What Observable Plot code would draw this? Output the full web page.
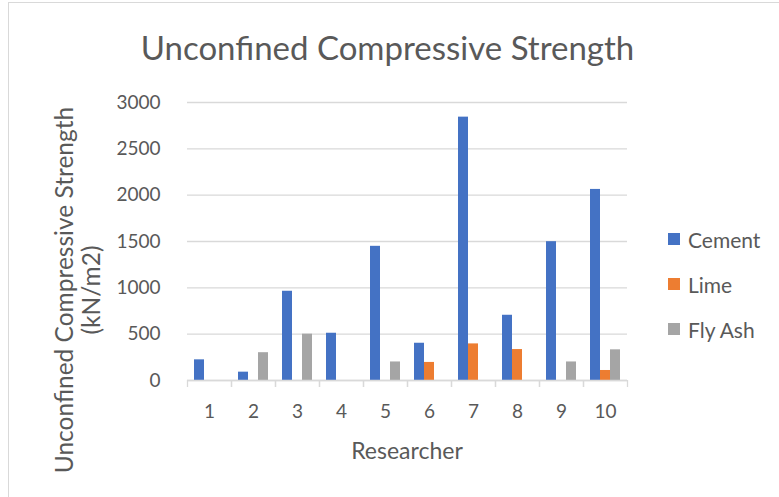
<!DOCTYPE html>
<html>
<head>
<meta charset="utf-8">
<script src="https://cdn.jsdelivr.net/npm/d3@7"></script>
<script src="https://cdn.jsdelivr.net/npm/@observablehq/plot@0.6"></script>
<style>
  html, body { margin: 0; padding: 0; background: #fff; }
  #wrap { position: relative; width: 779px; height: 497px; overflow: hidden; font-family: Lato, "Open Sans", sans-serif; color: #595959; }
  #border { position: absolute; left: 8px; top: 2px; right: -5px; bottom: -5px; border-top: 1.5px solid #d9d9d9; border-left: 1.5px solid #d9d9d9; pointer-events: none; }
  #title { position: absolute; left: 0; width: 775px; top: 31px; text-align: center; font-size: 33px; line-height: 33px; }
  #ytitle { position: absolute; left: -123.5px; width: 400px; top: 263px; height: 54px; text-align: center; font-size: 24.5px; line-height: 27px; transform: rotate(-90deg); transform-origin: 50% 50%; }
  #xtitle { position: absolute; left: 207px; width: 400px; top: 437px; text-align: center; font-size: 23px; line-height: 26px; }
  #legend { position: absolute; left: 668px; top: 227px; }
  .item { display: flex; align-items: center; height: 24px; margin-bottom: 21px; font-size: 21px; }
  .sw { width: 12px; height: 12px; margin-right: 8px; }
  #chart { position: absolute; left: 0; top: 0; }
</style>
</head>
<body>
<div id="wrap">
  <div id="border"></div>
  <div id="chart"></div>
  <div id="title">Unconfined Compressive Strength</div>
  <div id="ytitle">Unconfined Compressive Strength<br>(kN/m2)</div>
  <div id="xtitle">Researcher</div>
  <div id="legend"></div>
</div>
<script>
// ---- Data ----
const researchers = ["1", "2", "3", "4", "5", "6", "7", "8", "9", "10"];
const seriesNames = ["Cement", "Lime", "Fly Ash"];
const seriesColors = ["#4472C4", "#ED7D31", "#A5A5A5"];
const cement = [223, 90, 963, 510, 1448, 402, 2842, 704, 1498, 2062];
const lime   = [null, null, null, null, null, 195, 395, 334, null, 108];
const flyAsh = [null, 300, 500, null, 200, null, null, null, 200, 331];
const yTicks = [0, 500, 1000, 1500, 2000, 2500, 3000];

// ---- Build table ----
const seriesValues = [cement, lime, flyAsh];
const rows = [];
researchers.forEach((r, i) => {
  seriesNames.forEach((s, j) => {
    const v = seriesValues[j][i];
    if (v != null) rows.push({researcher: r, series: s, value: v});
  });
});

// ---- Layout ----
const W = 779, H = 497;
const mL = 187, mR = 152, mT = 102, mB = 117;
const step = (W - mL - mR) / researchers.length;

const chart = Plot.plot({
  width: W,
  height: H,
  marginLeft: mL,
  marginRight: mR,
  marginTop: mT,
  marginBottom: mB,
  style: {fontFamily: "Lato, 'Open Sans', sans-serif", color: "#595959", background: "transparent"},
  fx: {domain: researchers, padding: 0, label: null},
  x: {domain: seriesNames, paddingInner: 0, paddingOuter: 0.665, axis: null},
  y: {domain: [0, 3000], label: null},
  color: {domain: seriesNames, range: seriesColors},
  marks: [
    Plot.gridY(yTicks, {stroke: "#d9d9d9", strokeOpacity: 1, strokeWidth: 1.3}),
    Plot.axisY(yTicks, {tickSize: 0, tickPadding: 27, fontSize: 19, fill: "#595959", label: null, tickFormat: d => String(d)}),
    Plot.barY(rows, {fx: "researcher", x: "series", y: "value", fill: "series"}),
    Plot.ruleY([0], {stroke: "#d9d9d9", strokeWidth: 1.3}),
    Plot.axisFx({anchor: "bottom", tickSize: 0, tickPadding: 24, fontSize: 19, fill: "#595959", label: null}),
    Plot.axisFx({anchor: "bottom", tickSize: 7, tickFormat: () => "", stroke: "#d9d9d9", strokeWidth: 1.3, dx: -step / 2, label: null}),
    Plot.axisFx([researchers[researchers.length - 1]], {anchor: "bottom", tickSize: 7, tickFormat: () => "", stroke: "#d9d9d9", strokeWidth: 1.3, dx: step / 2, label: null})
  ]
});
document.getElementById("chart").appendChild(chart);

// ---- Legend ----
const legend = document.getElementById("legend");
seriesNames.forEach((s, i) => {
  const item = document.createElement("div");
  item.className = "item";
  const sw = document.createElement("div");
  sw.className = "sw";
  sw.style.background = seriesColors[i];
  const t = document.createElement("span");
  t.textContent = s;
  item.appendChild(sw);
  item.appendChild(t);
  legend.appendChild(item);
});
</script>
</body>
</html>
